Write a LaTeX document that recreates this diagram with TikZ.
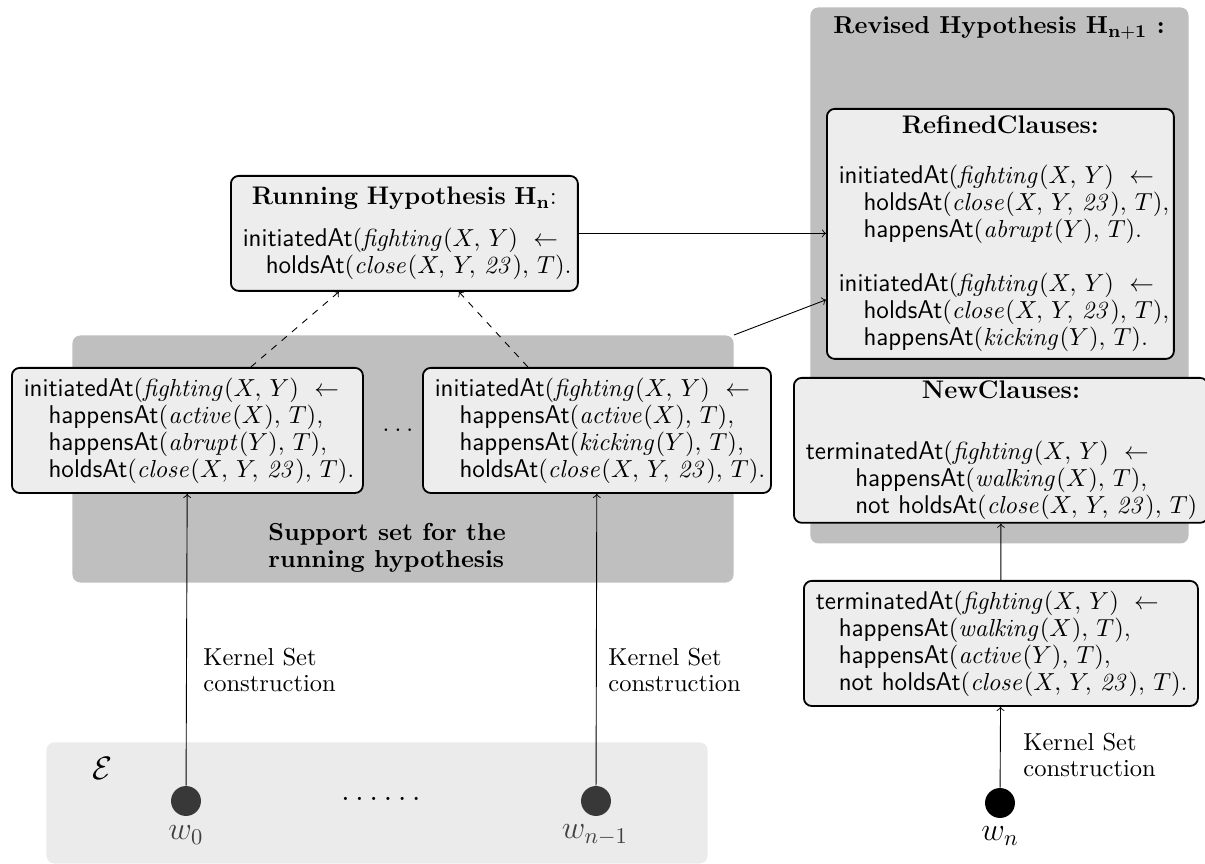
\documentclass[tikz,border=0pt]{standalone}
\usepackage{amsmath,amssymb}
\usetikzlibrary{calc}
\newcommand\fs[1]{\textsf{#1}}
\newcommand\Ln[1]{\mbox{#1}}
\newcommand\cma{,\,}
\newcommand\ttlf{\fontsize{11.3}{12}\selectfont\bfseries}
\begin{document}
\begin{tikzpicture}[x=0.4444pt,y=-0.4444pt,
  clause/.style={draw=black, thick, rounded corners=3.5pt, fill=black!7,
    inner xsep=5.3pt, inner ysep=0pt, anchor=north west, align=left,
    font=\fontsize{11.4}{12}\selectfont},
  bgbox/.style={fill=black!25, rounded corners=3.5pt, draw=none, inner sep=0pt, anchor=north west},
  wdot/.style={circle, minimum size=13.3pt, inner sep=0pt},
  lbl/.style={align=left, anchor=west, inner sep=0pt, font=\fontsize{10.9}{11.7}\selectfont},
  conn/.style={->},
  dconn/.style={->, dashed}]
\useasboundingbox (0,0) rectangle (1205,864);
% backgrounds
\node[bgbox, minimum width=168pt, minimum height=238.2pt] (rev) at (810,7) {};
\node[font=\fontsize{10.9}{12}\selectfont\bfseries] (revt) at (999,28) {Revised Hypothesis $\mathbf{H_{n+1}}$ :};
\node[bgbox, minimum width=293.8pt, minimum height=109.8pt] (sup) at (72,335) {};
\node[bgbox, fill=black!8, minimum width=293.8pt, minimum height=53.8pt] (env) at (46,742) {};
\node[lbl, font=\fontsize{10.9}{11.7}\selectfont\bfseries] (supt) at (268,548) {Support set for the\\running hypothesis};
% running hypothesis
\node[clause, text width=143.6pt, minimum height=51.1pt] (run) at (230,175) {%
\hfill\Ln{{\ttlf Running Hypothesis $\mathbf{H_n}$}:}\hfill\null\\[6.5pt]
\Ln{\fs{initiatedAt}$(\mathit{fighting}(X\cma Y)~\leftarrow$}\\
\Ln{\hspace*{10.2pt}\fs{holdsAt}$(\mathit{close}(X\cma Y\cma\mathit{23})\cma T)$.}};
% support clauses
\node[clause, text width=145.4pt, minimum height=55.6pt] (c1) at (11,367) {%
\Ln{\fs{initiatedAt}$(\mathit{fighting}(X\cma Y)~\leftarrow$}\\
\Ln{\hspace*{11pt}\fs{happensAt}$(\mathit{active}(X)\cma T)$,}\\
\Ln{\hspace*{11pt}\fs{happensAt}$(\mathit{abrupt}(Y)\cma T)$,}\\
\Ln{\hspace*{11pt}\fs{holdsAt}$(\mathit{close}(X\cma Y\cma\mathit{23})\cma T)$.}};
\node[font=\large] (mid) at (398,430) {$\ldots$};
\node[clause, text width=144.1pt, minimum height=55.6pt] (c2) at (422,367) {%
\Ln{\fs{initiatedAt}$(\mathit{fighting}(X\cma Y)~\leftarrow$}\\
\Ln{\hspace*{11pt}\fs{happensAt}$(\mathit{active}(X)\cma T)$,}\\
\Ln{\hspace*{11pt}\fs{happensAt}$(\mathit{kicking}(Y)\cma T)$,}\\
\Ln{\hspace*{11pt}\fs{holdsAt}$(\mathit{close}(X\cma Y\cma\mathit{23})\cma T)$.}};
% refined clauses
\node[clause, text width=143.6pt, minimum height=111.1pt] (ref) at (826,108) {%
\hfill\Ln{\ttlf RefinedClauses:}\hfill\null\\[10pt]
\Ln{\fs{initiatedAt}$(\mathit{fighting}(X\cma Y)~\leftarrow$}\\
\Ln{\hspace*{11pt}\fs{holdsAt}$(\mathit{close}(X\cma Y\cma\mathit{23})\cma T)$,}\\
\Ln{\hspace*{11pt}\fs{happensAt}$(\mathit{abrupt}(Y)\cma T)$.}\\[12pt]
\Ln{\fs{initiatedAt}$(\mathit{fighting}(X\cma Y)~\leftarrow$}\\
\Ln{\hspace*{11pt}\fs{holdsAt}$(\mathit{close}(X\cma Y\cma\mathit{23})\cma T)$,}\\
\Ln{\hspace*{11pt}\fs{happensAt}$(\mathit{kicking}(Y)\cma T)$.}};
% new clauses
\node[clause, text width=173.4pt, minimum height=64.4pt] (new) at (793,377) {%
\hfill\Ln{\ttlf NewClauses:}\hfill\null\\[15pt]
\Ln{\fs{terminatedAt}$(\mathit{fighting}(X\cma Y)~\leftarrow$}\\
\Ln{\hspace*{22pt}\fs{happensAt}$(\mathit{walking}(X)\cma T)$,}\\
\Ln{\hspace*{22pt}\fs{not holdsAt}$(\mathit{close}(X\cma Y\cma\mathit{23})\cma T)$}};
% terminated kernel clause
\node[clause, text width=164.5pt, minimum height=55.6pt] (term) at (803,580) {%
\Ln{\fs{terminatedAt}$(\mathit{fighting}(X\cma Y)~\leftarrow$}\\
\Ln{\hspace*{10.2pt}\fs{happensAt}$(\mathit{walking}(X)\cma T)$,}\\
\Ln{\hspace*{10.2pt}\fs{happensAt}$(\mathit{active}(Y)\cma T)$,}\\
\Ln{\hspace*{10.2pt}\fs{not holdsAt}$(\mathit{close}(X\cma Y\cma\mathit{23})\cma T)$.}};
% examples
\node[font=\Large] (E) at (102,768) {$\mathcal{E}$};
\node[wdot, fill=black!78] (w0) at (186,801) {};
\node[font=\Large, text=black!75] (w0l) at (186,835) {$w_0$};
\node[font=\Large] (dd) at (381,799) {$\ldots\ldots$};
\node[wdot, fill=black!78] (w1) at (596,801) {};
\node[font=\Large, text=black!75] (w1l) at (595,835) {$w_{n-1}$};
\node[wdot, fill=black] (wn) at (1000,803) {};
\node[font=\Large] (wnl) at (1000,836) {$w_n$};
% kernel labels
\node[lbl] (k1) at (203,670) {Kernel Set\\construction};
\node[lbl] (k2) at (608,670) {Kernel Set\\construction};
\node[lbl] (k3) at (1023,755) {Kernel Set\\construction};
% connectors
\draw[conn] (w0) -- (c1);
\draw[conn] (w1) -- (c2);
\draw[conn] (wn) -- (term);
\draw[conn] (term) -- (new);
\draw[conn] (run.east) -- (run.east -| ref.west);
\draw[conn] (sup.north east) -- ([yshift=-29.3pt]ref.west);
\draw[dconn] ([xshift=28.2pt]c1.north) -- ([xshift=-29.1pt]run.south);
\draw[dconn] ([xshift=-30.7pt]c2.north) -- ([xshift=24.2pt]run.south);
\end{tikzpicture}
\end{document}
